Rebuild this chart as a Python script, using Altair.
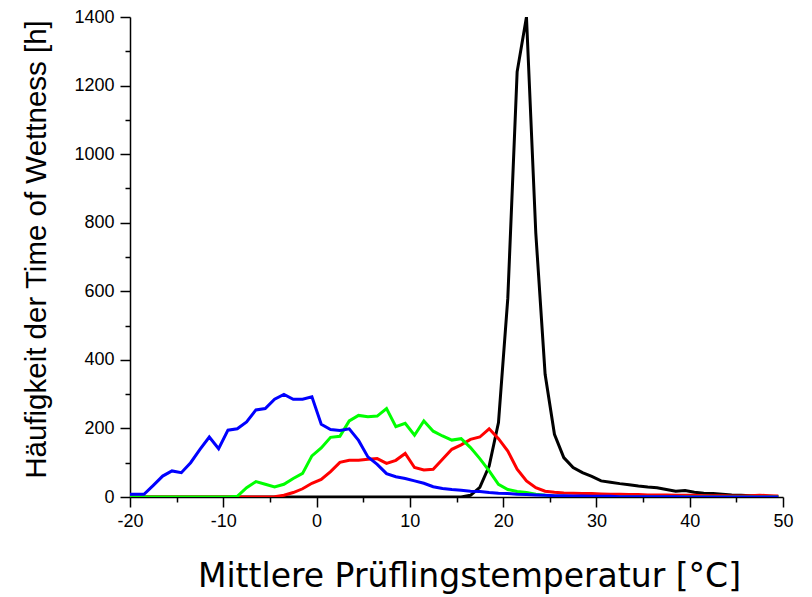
import altair as alt
import pandas as pd

# temperature grid (°C), bin centres
temps = [-20] + [x + 0.5 for x in range(-19, 50)]

blue = [8, 8, 34, 61, 76, 71, 100, 139, 175, 141, 195, 199, 219, 254, 258, 285, 299, 285, 285, 292,
        212, 197, 194, 199, 165, 117, 95, 68, 59, 54, 47, 40, 30, 25, 22, 20, 17, 16, 13, 11,
        10, 8, 7, 6, 5, 4, 4, 3, 3, 2, 2, 2, 1, 1, 1, 1, 1, 1, 1, 0,
        0, 0, 0, 0, 0, 0, 0, 0, 0, 0]

green = [0, 0, 0, 0, 0, 0, 0, 0, 0, 0, 0, 2, 27, 45, 37, 29, 37, 54, 69, 120,
         143, 174, 177, 222, 238, 234, 236, 258, 205, 215, 180, 222, 192, 178, 166, 170, 144, 112, 76, 37,
         22, 16, 13, 8, 5, 3, 2, 1, 0, 0, 0, 0, 0, 0, 0, 0, 0, 0, 0, 0,
         0, 0, 0, 0, 0, 0, 0, 0, 0, 0]

red = [0, 0, 0, 0, 0, 0, 0, 0, 0, 0, 0, 0, 0, 0, 0, 1, 5, 13, 24, 40,
       51, 74, 101, 107, 107, 110, 112, 98, 107, 127, 86, 79, 81, 110, 139, 152, 168, 175, 199, 170,
       134, 81, 47, 27, 17, 14, 12, 11, 10, 10, 9, 8, 8, 7, 7, 6, 6, 6, 5, 5,
       5, 4, 4, 4, 3, 3, 4, 5, 4, 3]

black = [0, 0, 0, 0, 0, 0, 0, 0, 0, 0, 0, 0, 0, 0, 0, 0, 0, 0, 0, 0,
         0, 0, 0, 0, 0, 0, 0, 0, 0, 0, 0, 0, 0, 0, 0, 0, 5, 28, 90, 217,
         580, 1240, 1400, 770, 358, 183, 115, 86, 71, 60, 47, 43, 39, 36, 32, 29, 27, 22, 17, 19,
         14, 11, 10, 8, 6, 5, 4, 3, 2, 1]

series = [("black", black, "#000000"), ("red", red, "#ff0000"),
          ("green", green, "#00ff00"), ("blue", blue, "#0000ff")]

x_ticks = list(range(-20, 51, 5))
y_ticks = list(range(0, 1401, 100))

x_scale = alt.Scale(domain=[-20, 50], nice=False, zero=False)
y_scale = alt.Scale(domain=[0, 1400], nice=False)

x_axis = alt.Axis(
    values=x_ticks, grid=False, domainColor="black", domainWidth=1.5,
    tickColor="black", tickWidth=1.5,
    tickSize={"condition": {"test": "datum.value % 10 === 0", "value": 10}, "value": 5},
    labelExpr="datum.value % 10 === 0 ? '' + datum.value : ''",
    labelFont="Liberation Sans", labelFontSize=18, labelColor="black", labelPadding=5,
    labelFlush=False, labelOverlap=False,
    title="Mittlere Prüflingstemperatur [°C]", titleFont="DejaVu Sans", titleFontSize=33,
    titleFontWeight="normal", titleColor="black",
    titleX=339, titleY=89, titleAlign="center", titleBaseline="alphabetic",
)
y_axis = alt.Axis(
    values=y_ticks, grid=False, domainColor="black", domainWidth=1.5,
    tickColor="black", tickWidth=1.5,
    tickSize={"condition": {"test": "datum.value % 200 === 0", "value": 10}, "value": 5},
    labelExpr="datum.value % 200 === 0 ? '' + datum.value : ''",
    labelFont="Liberation Sans", labelFontSize=18, labelColor="black", labelPadding=6,
    labelFlush=False, labelOverlap=False,
    title="Häufigkeit der Time of Wettness [h]", titleFont="Liberation Sans", titleFontSize=29.5,
    titleFontWeight="normal", titleColor="black",
    titleAngle=-90, titleX=-85, titleY=232, titleAlign="center", titleBaseline="alphabetic",
)

layers = []
for name, vals, col in series:
    df = pd.DataFrame({"T": temps, "v": vals})
    layers.append(
        alt.Chart(df).mark_line(color=col, strokeWidth=3, clip=True).encode(
            x=alt.X("T:Q", scale=x_scale, axis=x_axis),
            y=alt.Y("v:Q", scale=y_scale, axis=y_axis),
        )
    )

chart = alt.layer(*layers).properties(
    width=653, height=480,
    autosize=alt.AutoSizeParams(type="none"),
    padding={"left": 122, "top": 9, "right": 21, "bottom": 100},
).configure_view(strokeWidth=0)

chart.save("out.html", embed_options={"renderer": "svg", "actions": False})
